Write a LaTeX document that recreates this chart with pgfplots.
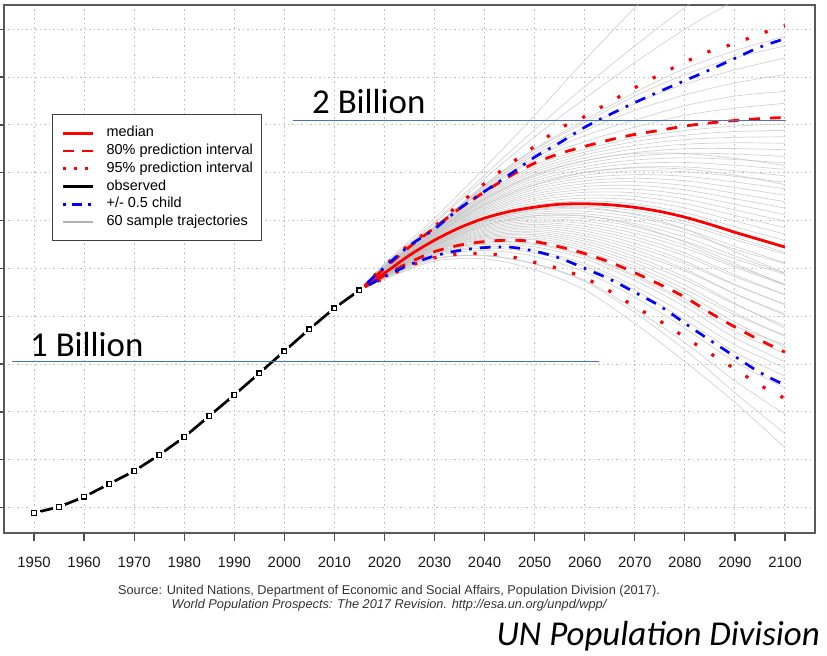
\documentclass[border=0pt]{standalone}
\usepackage{pgfplots}
\pgfplotsset{compat=1.18}
\usepackage{fontspec}
\setmainfont{Liberation Sans}
\newfontfamily\calfont{Carlito}
\definecolor{annblue}{RGB}{68,114,196}
\definecolor{pred}{RGB}{255,0,0}
\definecolor{pblue}{RGB}{0,0,255}
\begin{document}
\begin{tikzpicture}
\path[use as bounding box] (0bp,0bp) rectangle (827bp,656bp);
\begin{axis}[
  at={(4bp,123bp)}, anchor=south west,
  scale only axis, width=811bp, height=528bp,
  xmin=1944, xmax=2106, ymin=294, ymax=2501,
  xtick={1950,1960,...,2100}, ytick={400,600,...,2400},
  yticklabels={},
  /pgf/number format/1000 sep={},
  /pgf/number format/assume math mode=true,
  xticklabel style={font=\fontsize{15}{16}\selectfont, text=black!90, yshift=-12.5bp},
  tick align=outside, major tick length=8bp, tick pos=left,
  tick style={black!70, line width=1.3bp},
  axis line style={black!65, line width=1.6bp},
  grid=major, major grid style={black!25, line width=1bp, dash pattern=on 1.5bp off 3bp},
  traj/.style={black!25, opacity=0.7, line width=0.7bp, smooth, forget plot},
  legend style={at={(0.0592,0.7935)}, anchor=north west, draw=black!75, line width=1.3bp, fill=white,
    font=\fontsize{14.5}{17.5}\selectfont, inner xsep=9bp, inner ysep=11.5bp, row sep=3.8bp,
    nodes={inner sep=0pt, text height=10.5bp, text depth=3.5bp}, column sep=12bp},
  legend cell align=left,
  legend image code/.code={\draw[#1] (0bp,0bp) -- (30bp,0bp);},
]
\addlegendimage{pred, line width=2.8bp}
\addlegendentry{median}
\addlegendimage{pred, line width=2.8bp, dash pattern=on 10.8bp off 8bp}
\addlegendentry{80\% prediction interval}
\addlegendimage{pred, line width=3bp, dash pattern=on 3bp off 8bp}
\addlegendentry{95\% prediction interval}
\addlegendimage{black, line width=2.8bp}
\addlegendentry{observed}
\addlegendimage{pblue, line width=2.7bp, dash pattern=on 2.7bp off 6bp on 10bp off 6bp}
\addlegendentry{+/- 0.5 child}
\addlegendimage{black!30, line width=2bp}
\addlegendentry{60 sample trajectories}

% sample trajectories
\addplot[traj] coordinates {(2015,1309) (2020,1355) (2030,1430) (2040,1440) (2050,1395) (2060,1310) (2070,1170) (2080,1010) (2090,840) (2100,650)};
\addplot[traj] coordinates {(2015,1309) (2020,1358) (2030,1438) (2040,1455) (2050,1418) (2060,1345) (2070,1215) (2080,1060) (2090,880) (2100,710)};
\addplot[traj] coordinates {(2015,1309) (2020,1362) (2030,1442) (2040,1452) (2050,1420) (2060,1350) (2070,1230) (2080,1090) (2090,930) (2100,790)};
\addplot[traj] coordinates {(2015,1309) (2020,1362) (2030,1450) (2040,1475) (2050,1450) (2060,1385) (2070,1280) (2080,1150) (2090,1010) (2100,900)};
\addplot[traj] coordinates {(2015,1309) (2020,1364) (2030,1455) (2040,1485) (2050,1465) (2060,1410) (2070,1310) (2080,1185) (2090,1050) (2100,950)};
\addplot[traj] coordinates {(2015,1309) (2020,1365) (2030,1458) (2040,1492) (2050,1475) (2060,1420) (2070,1325) (2080,1210) (2090,1080) (2100,985)};
\addplot[traj] coordinates {(2015,1309) (2020,1366) (2030,1462) (2040,1500) (2050,1490) (2060,1440) (2070,1350) (2080,1240) (2090,1110) (2100,1010)};
\addplot[traj] coordinates {(2015,1309) (2020,1368) (2030,1465) (2040,1505) (2050,1500) (2060,1450) (2070,1365) (2080,1260) (2090,1135) (2100,1045)};
\addplot[traj] coordinates {(2015,1309) (2020,1369) (2030,1468) (2040,1510) (2050,1505) (2060,1455) (2070,1372) (2080,1270) (2090,1160) (2100,1080)};
\addplot[traj] coordinates {(2015,1309) (2020,1370) (2030,1472) (2040,1517) (2050,1519) (2060,1472) (2070,1396) (2080,1297) (2090,1175) (2100,1072)};
\addplot[traj] coordinates {(2015,1309) (2020,1371) (2030,1475) (2040,1522) (2050,1526) (2060,1483) (2070,1409) (2080,1313) (2090,1205) (2100,1120)};
\addplot[traj] coordinates {(2015,1309) (2020,1371) (2030,1477) (2040,1527) (2050,1534) (2060,1493) (2070,1423) (2080,1330) (2090,1214) (2100,1116)};
\addplot[traj] coordinates {(2015,1309) (2020,1372) (2030,1480) (2040,1532) (2050,1541) (2060,1504) (2070,1437) (2080,1352) (2090,1250) (2100,1160)};
\addplot[traj] coordinates {(2015,1309) (2020,1372) (2030,1482) (2040,1536) (2050,1548) (2060,1514) (2070,1450) (2080,1364) (2090,1254) (2100,1150)};
\addplot[traj] coordinates {(2015,1309) (2020,1373) (2030,1484) (2040,1541) (2050,1555) (2060,1524) (2070,1464) (2080,1390) (2090,1294) (2100,1210)};
\addplot[traj] coordinates {(2015,1309) (2020,1373) (2030,1487) (2040,1546) (2050,1562) (2060,1535) (2070,1478) (2080,1397) (2090,1294) (2100,1204)};
\addplot[traj] coordinates {(2015,1309) (2020,1374) (2030,1489) (2040,1551) (2050,1570) (2060,1545) (2070,1491) (2080,1420) (2090,1330) (2100,1250)};
\addplot[traj] coordinates {(2015,1309) (2020,1374) (2030,1492) (2040,1556) (2050,1577) (2060,1556) (2070,1505) (2080,1430) (2090,1333) (2100,1248)};
\addplot[traj] coordinates {(2015,1309) (2020,1375) (2030,1494) (2040,1561) (2050,1584) (2060,1566) (2070,1519) (2080,1452) (2090,1365) (2100,1290)};
\addplot[traj] coordinates {(2015,1309) (2020,1375) (2030,1496) (2040,1566) (2050,1591) (2060,1576) (2070,1532) (2080,1464) (2090,1373) (2100,1291)};
\addplot[traj] coordinates {(2015,1309) (2020,1376) (2030,1499) (2040,1571) (2050,1598) (2060,1587) (2070,1546) (2080,1485) (2090,1405) (2100,1330)};
\addplot[traj] coordinates {(2015,1309) (2020,1376) (2030,1501) (2040,1576) (2050,1606) (2060,1597) (2070,1559) (2080,1497) (2090,1412) (2100,1335)};
\addplot[traj] coordinates {(2015,1309) (2020,1377) (2030,1504) (2040,1581) (2050,1613) (2060,1608) (2070,1573) (2080,1514) (2090,1440) (2100,1375)};
\addplot[traj] coordinates {(2015,1309) (2020,1377) (2030,1506) (2040,1586) (2050,1620) (2060,1618) (2070,1587) (2080,1531) (2090,1452) (2100,1379)};
\addplot[traj] coordinates {(2015,1309) (2020,1378) (2030,1508) (2040,1590) (2050,1627) (2060,1628) (2070,1600) (2080,1550) (2090,1480) (2100,1420)};
\addplot[traj] coordinates {(2015,1309) (2020,1378) (2030,1511) (2040,1595) (2050,1634) (2060,1639) (2070,1614) (2080,1564) (2090,1492) (2100,1423)};
\addplot[traj] coordinates {(2015,1309) (2020,1379) (2030,1513) (2040,1600) (2050,1642) (2060,1649) (2070,1628) (2080,1585) (2090,1520) (2100,1460)};
\addplot[traj] coordinates {(2015,1309) (2020,1379) (2030,1516) (2040,1605) (2050,1649) (2060,1660) (2070,1641) (2080,1597) (2090,1531) (2100,1467)};
\addplot[traj] coordinates {(2015,1309) (2020,1372) (2030,1495) (2040,1580) (2050,1620) (2060,1620) (2070,1580) (2080,1510) (2090,1420) (2100,1330)};
\addplot[traj] coordinates {(2015,1309) (2020,1376) (2030,1505) (2040,1595) (2050,1645) (2060,1655) (2070,1625) (2080,1565) (2090,1470) (2100,1380)};
\addplot[traj] coordinates {(2015,1309) (2020,1381) (2030,1521) (2040,1616) (2050,1665) (2060,1682) (2070,1670) (2080,1633) (2090,1574) (2100,1516)};
\addplot[traj] coordinates {(2015,1309) (2020,1382) (2030,1523) (2040,1621) (2050,1674) (2060,1694) (2070,1686) (2080,1652) (2090,1598) (2100,1543)};
\addplot[traj] coordinates {(2015,1309) (2020,1383) (2030,1526) (2040,1627) (2050,1684) (2060,1706) (2070,1701) (2080,1671) (2090,1621) (2100,1570)};
\addplot[traj] coordinates {(2015,1309) (2020,1384) (2030,1528) (2040,1632) (2050,1693) (2060,1718) (2070,1716) (2080,1690) (2090,1644) (2100,1597)};
\addplot[traj] coordinates {(2015,1309) (2020,1385) (2030,1531) (2040,1638) (2050,1702) (2060,1730) (2070,1731) (2080,1709) (2090,1668) (2100,1625)};
\addplot[traj] coordinates {(2015,1309) (2020,1386) (2030,1534) (2040,1643) (2050,1711) (2060,1742) (2070,1747) (2080,1728) (2090,1691) (2100,1652)};
\addplot[traj] coordinates {(2015,1309) (2020,1387) (2030,1536) (2040,1649) (2050,1720) (2060,1754) (2070,1762) (2080,1747) (2090,1714) (2100,1679)};
\addplot[traj] coordinates {(2015,1309) (2020,1388) (2030,1539) (2040,1654) (2050,1730) (2060,1766) (2070,1777) (2080,1766) (2090,1738) (2100,1706)};
\addplot[traj] coordinates {(2015,1309) (2020,1389) (2030,1541) (2040,1660) (2050,1739) (2060,1778) (2070,1792) (2080,1785) (2090,1761) (2100,1733)};
\addplot[traj] coordinates {(2015,1309) (2020,1390) (2030,1544) (2040,1665) (2050,1748) (2060,1790) (2070,1808) (2080,1804) (2090,1785) (2100,1760)};
\addplot[traj] coordinates {(2015,1309) (2020,1391) (2030,1547) (2040,1671) (2050,1757) (2060,1802) (2070,1823) (2080,1824) (2090,1808) (2100,1787)};
\addplot[traj] coordinates {(2015,1309) (2020,1392) (2030,1549) (2040,1676) (2050,1766) (2060,1814) (2070,1838) (2080,1843) (2090,1831) (2100,1814)};
\addplot[traj] coordinates {(2015,1309) (2020,1393) (2030,1552) (2040,1682) (2050,1776) (2060,1826) (2070,1853) (2080,1862) (2090,1855) (2100,1841)};
\addplot[traj] coordinates {(2015,1309) (2020,1394) (2030,1554) (2040,1687) (2050,1785) (2060,1838) (2070,1869) (2080,1881) (2090,1878) (2100,1868)};
\addplot[traj] coordinates {(2015,1309) (2020,1395) (2030,1557) (2040,1693) (2050,1794) (2060,1850) (2070,1884) (2080,1900) (2090,1901) (2100,1896)};
\addplot[traj] coordinates {(2015,1309) (2020,1396) (2030,1560) (2040,1698) (2050,1803) (2060,1862) (2070,1899) (2080,1919) (2090,1925) (2100,1923)};
\addplot[traj] coordinates {(2015,1309) (2020,1397) (2030,1562) (2040,1704) (2050,1812) (2060,1874) (2070,1914) (2080,1938) (2090,1948) (2100,1950)};
\addplot[traj] coordinates {(2015,1309) (2020,1398) (2030,1565) (2040,1709) (2050,1822) (2060,1886) (2070,1930) (2080,1957) (2090,1972) (2100,1977)};
\addplot[traj] coordinates {(2015,1309) (2020,1399) (2030,1567) (2040,1715) (2050,1831) (2060,1898) (2070,1945) (2080,1976) (2090,1995) (2100,2004)};
\addplot[traj] coordinates {(2015,1309) (2020,1386) (2030,1540) (2040,1665) (2050,1750) (2060,1800) (2070,1820) (2080,1815) (2090,1790) (2100,1750)};
\addplot[traj] coordinates {(2015,1309) (2020,1390) (2030,1550) (2040,1690) (2050,1790) (2060,1850) (2070,1880) (2080,1880) (2090,1860) (2100,1830)};
\addplot[traj] coordinates {(2015,1309) (2020,1402) (2030,1571) (2040,1726) (2050,1852) (2060,1930) (2070,1990) (2080,2040) (2090,2070) (2100,2090)};
\addplot[traj] coordinates {(2015,1309) (2020,1404) (2030,1572) (2040,1732) (2050,1862) (2060,1955) (2070,2020) (2080,2080) (2090,2120) (2100,2140)};
\addplot[traj] coordinates {(2015,1309) (2020,1405) (2030,1573) (2040,1738) (2050,1875) (2060,1975) (2070,2060) (2080,2125) (2090,2175) (2100,2210)};
\addplot[traj] coordinates {(2015,1309) (2020,1406) (2030,1573) (2040,1742) (2050,1885) (2060,1990) (2070,2090) (2080,2170) (2090,2230) (2100,2280)};
\addplot[traj] coordinates {(2015,1309) (2020,1408) (2030,1574) (2040,1748) (2050,1895) (2060,2010) (2070,2120) (2080,2210) (2090,2280) (2100,2330)};
\addplot[traj] coordinates {(2015,1309) (2020,1409) (2030,1575) (2040,1750) (2050,1900) (2060,2020) (2070,2135) (2080,2235) (2090,2310) (2100,2370)};
\addplot[traj] coordinates {(2015,1309) (2020,1420) (2030,1610) (2040,1820) (2050,2040) (2060,2270) (2070,2490) (2080,2700) (2090,2900) (2100,3100)};
\addplot[traj] coordinates {(2015,1309) (2020,1415) (2030,1595) (2040,1790) (2050,1980) (2060,2160) (2070,2330) (2080,2490) (2090,2640) (2100,2780)};
\addplot[traj] coordinates {(2015,1309) (2020,1412) (2030,1588) (2040,1775) (2050,1950) (2060,2110) (2070,2260) (2080,2400) (2090,2520) (2100,2630)};

% observed: line, white gaps around the points, open squares
\addplot[black, line width=2.7bp, forget plot] coordinates {
(1950,378) (1955,403) (1960,445) (1965,499) (1970,553) (1975,620) (1980,695) (1985,783) (1990,871) (1995,962) (2000,1054) (2005,1146) (2010,1234) (2015,1309)};
\addplot[only marks, forget plot, mark=*, mark size=6bp, mark options={white, draw=white, line width=0pt}] coordinates {
(1950,378) (1955,403) (1960,445) (1965,499) (1970,553) (1975,620) (1980,695) (1985,783) (1990,871) (1995,962) (2000,1054) (2005,1146) (2010,1234) (2015,1309)};
\addplot[only marks, forget plot, mark=square, mark size=2.3bp, mark options={black, line width=1.4bp}] coordinates {
(1950,378) (1955,403) (1960,445) (1965,499) (1970,553) (1975,620) (1980,695) (1985,783) (1990,871) (1995,962) (2000,1054) (2005,1146) (2010,1234) (2015,1309)};

% median
\addplot[pred, line width=2.8bp, smooth, forget plot] coordinates {
(2015,1309) (2020,1380) (2025,1455) (2030,1518) (2035,1570) (2040,1610) (2045,1638) (2050,1656) (2055,1668) (2060,1670) (2065,1666) (2070,1655) (2075,1638) (2080,1614) (2085,1584) (2090,1551) (2095,1520) (2100,1489)};
% 80% PI
\addplot[pred, line width=2.8bp, smooth, dash pattern=on 10.8bp off 10bp, forget plot] coordinates {
(2015,1309) (2020,1400) (2025,1490) (2030,1570) (2035,1650) (2040,1720) (2045,1785) (2050,1840) (2055,1880) (2060,1910) (2065,1937) (2070,1960) (2075,1977) (2080,1995) (2085,2008) (2090,2018) (2095,2026) (2100,2031)};
\addplot[pred, line width=2.8bp, smooth, dash pattern=on 10.8bp off 10bp, forget plot] coordinates {
(2015,1309) (2020,1370) (2025,1425) (2030,1470) (2035,1497) (2040,1512) (2045,1518) (2050,1512) (2055,1490) (2060,1462) (2065,1426) (2070,1382) (2075,1333) (2080,1280) (2085,1215) (2090,1155) (2095,1100) (2100,1050)};
% 95% PI
\addplot[pred, line width=3.2bp, smooth, dash pattern=on 3.2bp off 17bp, forget plot] coordinates {
(2015,1309) (2020,1410) (2025,1500) (2030,1575) (2035,1670) (2040,1755) (2045,1835) (2050,1910) (2055,1985) (2060,2035) (2065,2095) (2070,2155) (2075,2210) (2080,2262) (2085,2308) (2090,2340) (2095,2380) (2100,2415)};
\addplot[pred, line width=3.2bp, smooth, dash pattern=on 3.2bp off 17bp, forget plot] coordinates {
(2015,1309) (2020,1360) (2025,1410) (2030,1445) (2035,1460) (2040,1462) (2045,1450) (2050,1425) (2055,1398) (2060,1360) (2065,1305) (2070,1240) (2075,1180) (2080,1112) (2085,1045) (2090,980) (2095,912) (2100,856)};
% +/- 0.5 child
\addplot[pblue, line width=2.7bp, smooth, dash pattern=on 2.7bp off 8bp on 10.8bp off 8bp, forget plot] coordinates {
(2015,1309) (2020,1405) (2025,1495) (2030,1565) (2035,1650) (2040,1722) (2045,1792) (2050,1865) (2055,1925) (2060,1990) (2065,2043) (2070,2093) (2075,2140) (2080,2185) (2085,2230) (2090,2278) (2095,2325) (2100,2360)};
\addplot[pblue, line width=2.7bp, smooth, dash pattern=on 2.7bp off 8bp on 10.8bp off 8bp, forget plot] coordinates {
(2015,1309) (2020,1365) (2025,1415) (2030,1452) (2035,1475) (2040,1487) (2045,1489) (2050,1472) (2055,1443) (2060,1400) (2065,1355) (2070,1300) (2075,1243) (2080,1171) (2085,1100) (2090,1032) (2095,965) (2100,912)};

% annotation lines
\addplot[annblue, line width=1bp, forget plot] coordinates {(1945.6,1009) (2062.9,1009)};
\addplot[annblue, line width=1bp, forget plot] coordinates {(2001.8,2018) (2100.2,2018)};
\end{axis}
\node[anchor=base west, inner sep=0pt, font=\calfont\fontsize{35}{42}\selectfont] at (30bp,299bp) {1 Billion};
\node[anchor=base west, inner sep=0pt, font=\calfont\fontsize{35}{42}\selectfont] at (312bp,542bp) {2 Billion};
\node[anchor=base, inner sep=0pt, font=\fontsize{12.8}{15}\selectfont, text=black!80] at (389bp,61.5bp) {Source: United Nations, Department of Economic and Social Affairs, Population Division (2017).};
\node[anchor=base, inner sep=0pt, font=\itshape\fontsize{12.8}{15}\selectfont, text=black!80] at (389bp,47.5bp) {World Population Prospects: The 2017 Revision. http://esa.un.org/unpd/wpp/};
\node[anchor=base east, inner sep=0pt, font=\calfont\itshape\fontsize{35}{42}\selectfont] at (820bp,11bp) {UN Population Division};
\end{tikzpicture}
\end{document}
